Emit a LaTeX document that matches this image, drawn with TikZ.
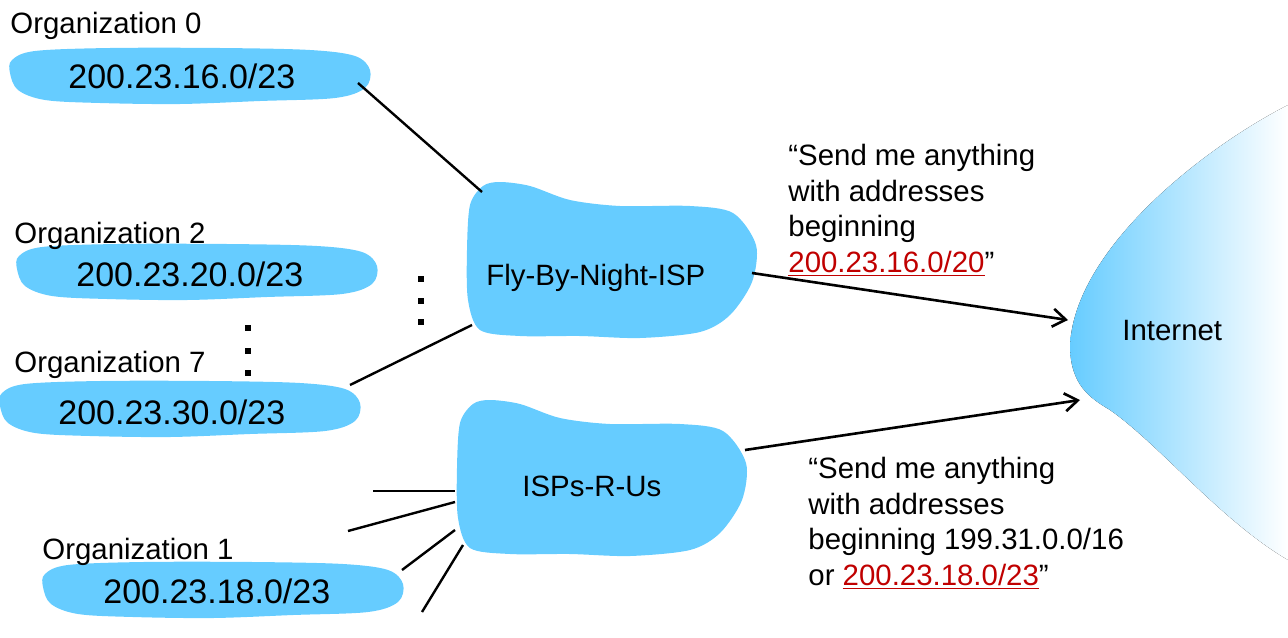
\documentclass[tikz,border=0pt]{standalone}
\usepackage{fontspec}
\setmainfont{Liberation Sans}
\usepackage{xcolor}
\usepackage{tikz}
\usetikzlibrary{arrows.meta}
\definecolor{netblue}{RGB}{102,204,255}
\definecolor{annred}{RGB}{192,0,0}
\newcommand{\pfx}[1]{\textcolor{annred}{\underline{#1}}}
\tikzset{
  lbl/.style={anchor=base west, inner sep=0pt, font=\fontsize{14.7}{17.7}\selectfont},
  addr/.style={anchor=base west, inner sep=0pt, font=\fontsize{17}{20}\selectfont},
  link/.style={line width=1.2pt},
  adv/.style={-{Straight Barb[length=6.5pt,width=9pt]}, line width=1.3pt},
  orgblob/.pic={
    \fill[netblue] plot[smooth cycle, tension=0.55] coordinates {
      (2,12) (25,3) (100,0) (210,0) (300,2) (345,8) (360,22) (355,40)
      (325,50) (250,53) (170,56) (90,55) (35,52) (8,42) (0,25)};
  },
  ispblob/.pic={
    \fill[netblue] plot[smooth cycle, tension=0.5] coordinates {
      (3,23) (16,4) (33,0) (63,4) (103,18) (153,24) (223,24) (266,31)
      (289,63) (285,100) (263,133) (233,150) (173,156) (113,154) (53,154)
      (13,148) (1,118) (0,68)};
  },
}

\begin{document}
\begin{tikzpicture}[x=0.5pt,y=-0.5pt]
  \useasboundingbox (0,0) rectangle (1288,637);

  % the Internet cloud
  \fill[left color=netblue, right color=white]
    (1288,105) .. controls (1200,150) and (1075,250) .. (1070,345)
    .. controls (1070,385) and (1090,398) .. (1110,410)
    .. controls (1160,445) and (1220,520) .. (1288,560) -- cycle;
  \node[lbl] (inet) at (1122,340) {Internet};

  % organizations
  \pic at (10,48) {orgblob};
  \pic at (17,244) {orgblob};
  \pic at (0,381) {orgblob};
  \pic at (43,562) {orgblob};
  \node[lbl] (org0lbl) at (10,33) {Organization 0};
  \node[addr] (org0) at (68,88) {200.23.16.0/23};
  \node[lbl] (org2lbl) at (14,243) {Organization 2};
  \node[addr] (org2) at (76,286) {200.23.20.0/23};
  \node[lbl] (org7lbl) at (14,372) {Organization 7};
  \node[addr] (org7) at (58,424) {200.23.30.0/23};
  \node[lbl] (org1lbl) at (42,559) {Organization 1};
  \node[addr] (org1) at (103,603) {200.23.18.0/23};

  % ISPs
  \pic at (467,182) {ispblob};
  \pic at (457,400) {ispblob};
  \node[lbl] (fly) at (486,285) {Fly-By-Night-ISP};
  \node[lbl] (rus) at (522,496) {ISPs-R-Us};

  % attachment points on the blobs
  \coordinate (org0-e) at (358,83);
  \coordinate (org7-e) at (350,385);
  \coordinate (org1-e) at (402,570);
  \coordinate (fly-nw) at (482,192);
  \coordinate (fly-sw) at (472,325);
  \coordinate (fly-e) at (752,273);
  \coordinate (rus-e) at (745,450);
  \coordinate (rus-w1) at (455,491);
  \coordinate (rus-w2) at (455,502);
  \coordinate (rus-w3) at (455,530);
  \coordinate (rus-w4) at (463,545);
  \coordinate (stub1) at (373,491);
  \coordinate (stub2) at (348,531);
  \coordinate (stub4) at (422,612);
  \coordinate (inet-a) at (1068,320);
  \coordinate (inet-b) at (1080,400);

  \draw[link] (org0-e) -- (fly-nw);
  \draw[link] (org7-e) -- (fly-sw);
  \draw[link] (stub1) -- (rus-w1);
  \draw[link] (stub2) -- (rus-w2);
  \draw[link] (org1-e) -- (rus-w3);
  \draw[link] (stub4) -- (rus-w4);

  % more organizations
  \foreach \y in {279,301,322} \fill (418,\y-3) rectangle (424,\y+3);
  \foreach \y in {328,351,373} \fill (245,\y-3) rectangle (251,\y+3);

  % route advertisements
  \draw[adv] (fly-e) -- (inet-a);
  \draw[adv] (rus-e) -- (inet-b);
  \node[lbl, align=left] (advfly) at (788,272)
    {“Send me anything\\with addresses\\beginning\\\pfx{200.23.16.0/20}”};
  \node[lbl, align=left] (advrus) at (808,585)
    {“Send me anything\\with addresses\\beginning 199.31.0.0/16\\or \pfx{200.23.18.0/23}”};
\end{tikzpicture}
\end{document}
